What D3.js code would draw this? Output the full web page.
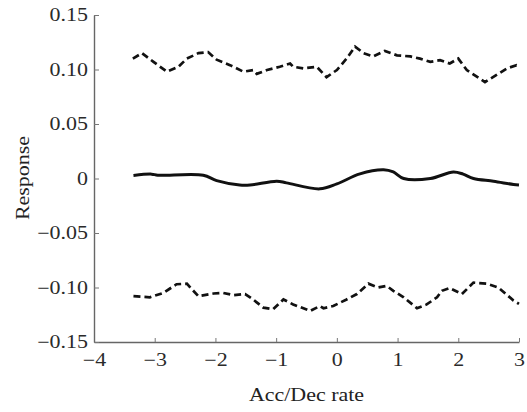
<!DOCTYPE html>
<html>
<head>
<meta charset="utf-8">
<script src="https://cdn.jsdelivr.net/npm/d3@7"></script>
<style>
  html, body { margin: 0; padding: 0; background: #fff; }
  svg text { font-family: "Liberation Serif", "DejaVu Serif", serif; }
</style>
</head>
<body>
<div id="chart"></div>
<script>
// Valores (x = taxa de acel./desacel., y = resposta)
const upperX = [-3.36, -3.21, -3.02, -2.80, -2.61, -2.47, -2.28, -2.12, -1.98, -1.76, -1.54, -1.38, -1.32, -1.15, -0.94, -0.77, -0.72, -0.55, -0.33, -0.17, 0.00, 0.16, 0.30, 0.44, 0.60, 0.79, 0.99, 1.21, 1.37, 1.54, 1.70, 1.86, 2.00, 2.14, 2.44, 2.63, 2.80, 2.96, 3.00];
const upperY = [0.110, 0.115, 0.107, 0.098, 0.1025, 0.110, 0.115, 0.116, 0.109, 0.104, 0.098, 0.0995, 0.096, 0.0995, 0.1025, 0.1055, 0.1025, 0.101, 0.1025, 0.093, 0.0995, 0.110, 0.121, 0.115, 0.112, 0.117, 0.113, 0.112, 0.110, 0.107, 0.1085, 0.1055, 0.110, 0.0995, 0.0885, 0.095, 0.101, 0.104, 0.103];

const meanX = [-3.35, -3.05, -2.95, -2.20, -1.98, -1.60, -1.43, -0.99, -0.83, -0.28, 0.00, 0.38, 0.77, 0.93, 1.10, 1.54, 1.92, 2.08, 2.25, 2.58, 2.91, 3.00];
const meanY = [0.0028, 0.004, 0.003, 0.003, -0.002, -0.006, -0.006, -0.0025, -0.004, -0.0095, -0.005, 0.0043, 0.008, 0.006, 0.0, 0.0, 0.006, 0.004, 0.0, -0.0025, -0.0055, -0.006];

const lowerX = [-3.35, -3.08, -2.86, -2.64, -2.47, -2.39, -2.28, -2.03, -1.87, -1.70, -1.51, -1.38, -1.21, -1.05, -0.88, -0.72, -0.44, -0.28, -0.22, -0.06, 0.16, 0.33, 0.52, 0.68, 0.82, 0.93, 1.10, 1.32, 1.48, 1.65, 1.73, 1.86, 2.06, 2.25, 2.47, 2.66, 2.91, 3.00];
const lowerY = [-0.108, -0.109, -0.105, -0.097, -0.0965, -0.1015, -0.108, -0.1055, -0.105, -0.107, -0.106, -0.111, -0.1185, -0.120, -0.111, -0.1155, -0.1215, -0.117, -0.119, -0.117, -0.111, -0.106, -0.0965, -0.100, -0.0985, -0.103, -0.109, -0.119, -0.1155, -0.109, -0.103, -0.1005, -0.106, -0.0955, -0.0965, -0.100, -0.112, -0.115];

const xTicks = [-4, -3, -2, -1, 0, 1, 2, 3];
const xTickLabels = ["\u22124", "\u22123", "\u22122", "\u22121", "0", "1", "2", "3"];
const yTicks = [-0.15, -0.10, -0.05, 0, 0.05, 0.10, 0.15];
const yTickLabels = ["\u22120.15", "\u22120.10", "\u22120.05", "0", "0.05", "0.10", "0.15"];

const W = 527, H = 412;
const margin = { top: 15, right: 8, bottom: 70, left: 94 };
const iw = W - margin.left - margin.right;
const ih = H - margin.top - margin.bottom;
const stretch = 1.22; // fonte da figura original e mais larga

const svg = d3.select("#chart").append("svg")
  .attr("width", W).attr("height", H);

const g = svg.append("g")
  .attr("transform", `translate(${margin.left},${margin.top})`);

const x = d3.scaleLinear().domain([-4, 3]).range([0, iw]);
const y = d3.scaleLinear().domain([-0.15, 0.15]).range([ih, 0]);

// Eixos
const xAxis = g.append("g")
  .attr("transform", `translate(0,${ih})`)
  .call(d3.axisBottom(x)
    .tickValues(xTicks)
    .tickFormat((d, i) => xTickLabels[i])
    .tickSizeInner(-4).tickSizeOuter(0).tickPadding(11));

const yAxis = g.append("g")
  .call(d3.axisLeft(y)
    .tickValues(yTicks)
    .tickFormat((d, i) => yTickLabels[i])
    .tickSizeInner(-5).tickSizeOuter(0).tickPadding(6));

[xAxis, yAxis].forEach(ax => {
  ax.select(".domain").attr("stroke", "#666").attr("stroke-width", 1.4);
  ax.selectAll(".tick line").attr("stroke", "#777").attr("stroke-width", 1);
  ax.selectAll(".tick text")
    .attr("fill", "#2a2a2a")
    .attr("font-size", "18px")
    .attr("font-family", "Liberation Serif, serif");
});

// Linhas
const pts = (xs, ys) => xs.map((v, i) => [v, ys[i]]);

const lineJagged = d3.line().x(d => x(d[0])).y(d => y(d[1]));
const lineSmooth = d3.line().x(d => x(d[0])).y(d => y(d[1]))
  .curve(d3.curveCatmullRom.alpha(0.5));

g.append("path")
  .datum(pts(upperX, upperY))
  .attr("d", lineJagged)
  .attr("fill", "none").attr("stroke", "#111")
  .attr("stroke-width", 2.7).attr("stroke-dasharray", "7,4");

g.append("path")
  .datum(pts(lowerX, lowerY))
  .attr("d", lineJagged)
  .attr("fill", "none").attr("stroke", "#111")
  .attr("stroke-width", 2.7).attr("stroke-dasharray", "7,4");

g.append("path")
  .datum(pts(meanX, meanY))
  .attr("d", lineSmooth)
  .attr("fill", "none").attr("stroke", "#111")
  .attr("stroke-width", 3);

// Titulos dos eixos
svg.append("text")
  .attr("x", margin.left + iw / 2).attr("y", 401)
  .attr("text-anchor", "middle")
  .attr("font-size", "18px").attr("fill", "#222")
  .text("Acc/Dec rate");

svg.append("text")
  .attr("transform", `translate(29,${178}) rotate(-90)`)
  .attr("text-anchor", "middle")
  .attr("font-size", "18px").attr("fill", "#222")
  .text("Response");

// Alarga os textos como na figura
svg.selectAll("text").each(function () {
  const len = this.getComputedTextLength();
  d3.select(this)
    .attr("textLength", len * stretch)
    .attr("lengthAdjust", "spacingAndGlyphs");
});
</script>
</body>
</html>
